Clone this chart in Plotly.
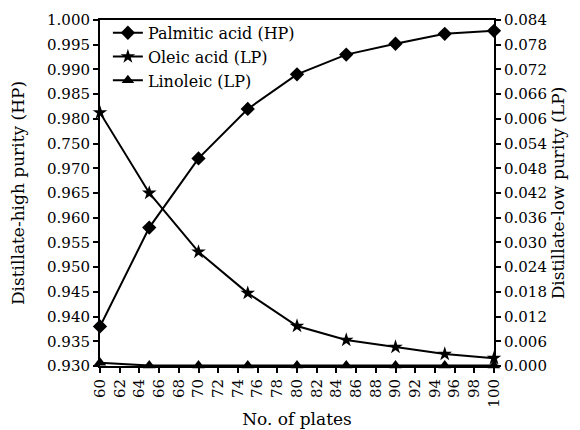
import plotly.graph_objects as go

plates = [60, 65, 70, 75, 80, 85, 90, 95, 100]
palmitic_hp = [0.938, 0.958, 0.972, 0.982, 0.989, 0.993, 0.9952, 0.9972, 0.9978]
oleic_lp = [0.0615, 0.042, 0.0277, 0.0177, 0.0097, 0.0063, 0.0046, 0.0029, 0.0019]
linoleic_lp = [0.0008, 0.0001, 0.0001, 0.0001, 0.0001, 0.0001, 0.0001, 0.0001, 0.0001]

left_tickvals = [0.930, 0.935, 0.940, 0.945, 0.950, 0.955, 0.960, 0.965, 0.970, 0.975,
                 0.980, 0.985, 0.990, 0.995, 1.000]
left_ticktext = ["0.930", "0.935", "0.940", "0.945", "0.950", "0.955", "0.960", "0.965",
                 "0.970", "0.750", "0.980", "0.985", "0.990", "0.995", "1.000"]
right_tickvals = [0.000, 0.006, 0.012, 0.018, 0.024, 0.030, 0.036, 0.042, 0.048, 0.054,
                  0.060, 0.066, 0.072, 0.078, 0.084]
right_ticktext = ["0.000", "0.006", "0.012", "0.018", "0.024", "0.030", "0.036", "0.042",
                  "0.048", "0.054", "0.006", "0.066", "0.072", "0.078", "0.084"]
x_tickvals = list(range(60, 101, 2))

FONT = "DejaVu Serif"
fig = go.Figure()
fig.add_trace(go.Scatter(x=plates, y=palmitic_hp, name="Palmitic acid (HP)", mode="lines+markers",
                         line=dict(color="black", width=2),
                         marker=dict(symbol="diamond", size=11, color="black"),
                         cliponaxis=False, yaxis="y"))
fig.add_trace(go.Scatter(x=plates, y=oleic_lp, name="Oleic acid (LP)", mode="lines+markers",
                         line=dict(color="black", width=2),
                         marker=dict(symbol="star", size=11, color="black"),
                         cliponaxis=False, yaxis="y2"))
fig.add_trace(go.Scatter(x=plates, y=linoleic_lp, name="Linoleic (LP)", mode="lines+markers",
                         line=dict(color="black", width=2),
                         marker=dict(symbol="triangle-up", size=11, color="black"),
                         cliponaxis=False, yaxis="y2"))

axis_common = dict(showgrid=False, zeroline=False, linecolor="black", linewidth=2,
                   ticks="outside", ticklen=5, tickwidth=2, tickcolor="black",
                   tickfont=dict(family=FONT, size=15, color="black"))

fig.update_layout(
    width=572, height=422,
    margin=dict(l=92, r=86, t=12, b=64, autoexpand=False),
    paper_bgcolor="white", plot_bgcolor="white",
    font=dict(family=FONT, color="black"),
    showlegend=True,
    legend=dict(x=0.02, y=1.012, xanchor="left", yanchor="top",
                bgcolor="rgba(0,0,0,0)", font=dict(family=FONT, size=16, color="black"),
                tracegroupgap=0, itemwidth=30),
    xaxis=dict(range=[60, 100], tickvals=x_tickvals, tickangle=-90,
               title=dict(text="No. of plates", font=dict(family=FONT, size=17), standoff=6),
               mirror=True, **axis_common),
    yaxis=dict(range=[0.930, 1.000], tickvals=left_tickvals, ticktext=left_ticktext,
               title=dict(text="Distillate-high purity (HP)", font=dict(family=FONT, size=17), standoff=20),
               **axis_common),
    yaxis2=dict(range=[0.0, 0.084], tickvals=right_tickvals, ticktext=right_ticktext,
                overlaying="y", side="right",
                title=dict(text="Distillate-low purity (LP)", font=dict(family=FONT, size=17), standoff=6),
                **axis_common),
)

fig.write_html("out.html")
